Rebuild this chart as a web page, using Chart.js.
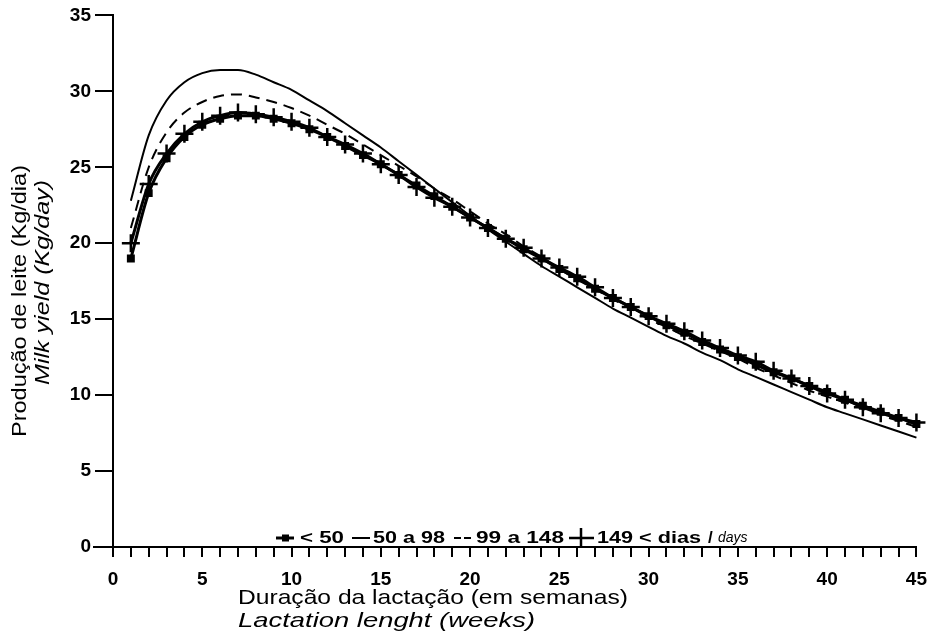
<!DOCTYPE html>
<html>
<head>
<meta charset="utf-8">
<script src="https://cdn.jsdelivr.net/npm/chart.js@4.4.1/dist/chart.umd.min.js"></script>
<style>
  html, body { margin: 0; padding: 0; background: #fff; }
  #wrap { width: 938px; height: 637px; position: relative; }
</style>
</head>
<body>
<div id="wrap"><canvas id="milkChart" width="938" height="637"></canvas></div>
<script>
// weeks of lactation
const weeks = [1, 2, 3, 4, 5, 6, 7, 8, 9, 10, 11, 12, 13, 14, 15, 16, 17, 18, 19, 20, 21, 22, 23,
    24, 25, 26, 27, 28, 29, 30, 31, 32, 33, 34, 35, 36, 37, 38, 39, 40, 41, 42, 43, 44, 45];

// milk yield (kg/day) per group of days open
const under50 = [19.0, 23.3, 25.6, 27.0, 27.8, 28.2, 28.4, 28.4, 28.2, 27.9, 27.5, 27.0, 26.4, 25.8, 25.2,
    24.5, 23.8, 23.1, 22.4, 21.7, 21.0, 20.3, 19.6, 19.0, 18.3, 17.7, 17.0, 16.4, 15.8, 15.2,
    14.6, 14.1, 13.5, 13.0, 12.5, 12.0, 11.5, 11.1, 10.6, 10.2, 9.7, 9.3, 8.9, 8.5, 8.1];
const from50to98 = [22.8, 27.1, 29.4, 30.6, 31.2, 31.4, 31.4, 31.1, 30.6, 30.1, 29.4, 28.7, 27.9, 27.1, 26.3,
    25.4, 24.5, 23.6, 22.7, 21.8, 20.9, 20.1, 19.3, 18.5, 17.8, 17.1, 16.4, 15.7, 15.1, 14.5,
    13.9, 13.4, 12.8, 12.3, 11.7, 11.2, 10.7, 10.2, 9.7, 9.2, 8.8, 8.4, 8.0, 7.6, 7.2];
const from99to148 = [21.0, 25.0, 27.3, 28.6, 29.3, 29.7, 29.8, 29.6, 29.3, 28.9, 28.4, 27.8, 27.2, 26.5, 25.8,
    25.1, 24.4, 23.6, 22.9, 22.1, 21.3, 20.6, 19.8, 19.1, 18.3, 17.6, 17.0, 16.3, 15.7, 15.0,
    14.5, 13.9, 13.4, 12.9, 12.4, 11.8, 11.3, 10.8, 10.3, 9.9, 9.5, 9.1, 8.7, 8.3, 7.9];
const over149 = [20.0, 23.9, 25.9, 27.2, 28.0, 28.4, 28.6, 28.5, 28.3, 28.0, 27.6, 27.0, 26.5, 25.9, 25.2,
    24.5, 23.7, 23.0, 22.4, 21.7, 21.0, 20.3, 19.7, 19.0, 18.4, 17.8, 17.1, 16.4, 15.8, 15.2,
    14.7, 14.2, 13.6, 13.1, 12.6, 12.2, 11.6, 11.1, 10.6, 10.1, 9.7, 9.2, 8.8, 8.5, 8.2];

const seriesLabels = ['< 50', '50 a 98', '99 a 148', '149 < dias'];
const xTicks = [0, 5, 10, 15, 20, 25, 30, 35, 40, 45];
const yTicks = [0, 5, 10, 15, 20, 25, 30, 35];

const FONT = '"Liberation Sans", Arial, Helvetica, sans-serif';

function toPoints(values) {
    return weeks.map((w, i) => ({ x: w, y: values[i] }));
}

// draw text stretched to a given width (the scanned lettering is wide)
function fillFit(ctx, text, x, y, width) {
    const w = ctx.measureText(text).width;
    ctx.save();
    ctx.translate(x, y);
    ctx.scale(width / w, 1);
    ctx.fillText(text, 0, 0);
    ctx.restore();
}

// axis titles, custom legend and the left stub of the x axis
const decorPlugin = {
    id: 'decor',
    afterDraw(chart) {
        const ctx = chart.ctx;
        const area = chart.chartArea;
        ctx.save();
        ctx.fillStyle = '#000';
        ctx.strokeStyle = '#000';

        // x axis line runs a bit past the y axis
        ctx.lineWidth = 2;
        ctx.beginPath();
        ctx.moveTo(area.left - 20, area.bottom);
        ctx.lineTo(area.left, area.bottom);
        ctx.stroke();

        // x axis titles
        ctx.textBaseline = 'middle';
        ctx.textAlign = 'left';
        ctx.font = '21px ' + FONT;
        fillFit(ctx, 'Duração da lactação (em semanas)', 238, 598, 390);
        ctx.font = 'italic 21px ' + FONT;
        fillFit(ctx, 'Lactation lenght (weeks)', 238, 621, 297);

        // y axis titles
        ctx.save();
        ctx.translate(20, 437);
        ctx.rotate(-Math.PI / 2);
        ctx.font = '21px ' + FONT;
        fillFit(ctx, 'Produção de leite (Kg/dia)', 0, 0, 272);
        ctx.restore();
        ctx.save();
        ctx.translate(43, 385);
        ctx.rotate(-Math.PI / 2);
        ctx.font = 'italic 21px ' + FONT;
        fillFit(ctx, 'Milk yield (Kg/day)', 0, 0, 205);
        ctx.restore();

        // legend
        const ly = 538;
        ctx.font = 'bold 17px ' + FONT;
        // < 50 : line with square
        ctx.lineWidth = 3;
        ctx.beginPath(); ctx.moveTo(276, ly); ctx.lineTo(294, ly); ctx.stroke();
        ctx.fillRect(282, ly - 3.5, 7, 7);
        fillFit(ctx, seriesLabels[0], 300, ly, 44);
        // 50 a 98 : solid
        ctx.lineWidth = 2;
        ctx.beginPath(); ctx.moveTo(352, ly); ctx.lineTo(370, ly); ctx.stroke();
        fillFit(ctx, seriesLabels[1], 373, ly, 72);
        // 99 a 148 : dashed
        ctx.setLineDash([7, 3]);
        ctx.beginPath(); ctx.moveTo(454, ly); ctx.lineTo(473, ly); ctx.stroke();
        ctx.setLineDash([]);
        fillFit(ctx, seriesLabels[2], 476, ly, 88);
        // 149 < : cross
        ctx.lineWidth = 2.5;
        ctx.beginPath();
        ctx.moveTo(569, ly); ctx.lineTo(594, ly);
        ctx.moveTo(581, ly - 10); ctx.lineTo(581, ly + 10);
        ctx.stroke();
        fillFit(ctx, seriesLabels[3], 597, ly, 104);
        ctx.fillText('/', 708, ly);
        ctx.font = 'italic 14px ' + FONT;
        ctx.fillText('days', 718, ly);

        ctx.restore();
    }
};

const ctx = document.getElementById('milkChart').getContext('2d');
new Chart(ctx, {
    type: 'line',
    data: {
        datasets: [
            {
                label: seriesLabels[1], data: toPoints(from50to98),
                borderColor: '#000', borderWidth: 2, pointRadius: 0,
                tension: 0.4, cubicInterpolationMode: 'monotone', clip: false
            },
            {
                label: seriesLabels[2], data: toPoints(from99to148),
                borderColor: '#000', borderWidth: 2, borderDash: [11, 7], pointRadius: 0,
                tension: 0.4, cubicInterpolationMode: 'monotone', clip: false
            },
            {
                label: seriesLabels[0], data: toPoints(under50),
                borderColor: '#000', borderWidth: 3, pointStyle: 'rect', pointRadius: 3.5,
                pointBackgroundColor: '#000', pointBorderColor: '#000',
                tension: 0.4, cubicInterpolationMode: 'monotone', clip: false
            },
            {
                label: seriesLabels[3], data: toPoints(over149),
                borderColor: '#000', borderWidth: 3, pointStyle: 'cross', pointRadius: 9,
                pointBorderWidth: 2.5, pointBorderColor: '#000',
                tension: 0.4, cubicInterpolationMode: 'monotone', clip: false
            }
        ]
    },
    options: {
        responsive: false,
        animation: false,
        events: [],
        layout: { padding: { top: 15, right: 17, left: 0, bottom: 0 } },
        plugins: { legend: { display: false }, tooltip: { enabled: false } },
        scales: {
            x: {
                type: 'linear', min: 0, max: 45,
                afterFit: s => { s.height = 90; },
                afterBuildTicks: s => { s.ticks = [0].concat(weeks).map(v => ({ value: v })); },
                border: { display: true, color: '#000', width: 2 },
                grid: { drawOnChartArea: false, drawTicks: true, tickLength: 10, color: '#000', lineWidth: 2 },
                ticks: {
                    autoSkip: false, maxRotation: 0, padding: 11, color: '#000',
                    font: { family: FONT, size: 19, weight: 'bold' },
                    callback: v => xTicks.includes(v) ? String(v) : ''
                }
            },
            y: {
                type: 'linear', min: 0, max: 35,
                afterFit: s => { s.width = 113; },
                afterBuildTicks: s => { s.ticks = yTicks.map(v => ({ value: v })); },
                border: { display: true, color: '#000', width: 2 },
                grid: { drawOnChartArea: false, drawTicks: true, tickLength: 18, color: '#000', lineWidth: 2 },
                ticks: {
                    padding: 4, color: '#000',
                    font: { family: FONT, size: 19, weight: 'bold' }
                }
            }
        }
    },
    plugins: [decorPlugin]
});
</script>
</body>
</html>
